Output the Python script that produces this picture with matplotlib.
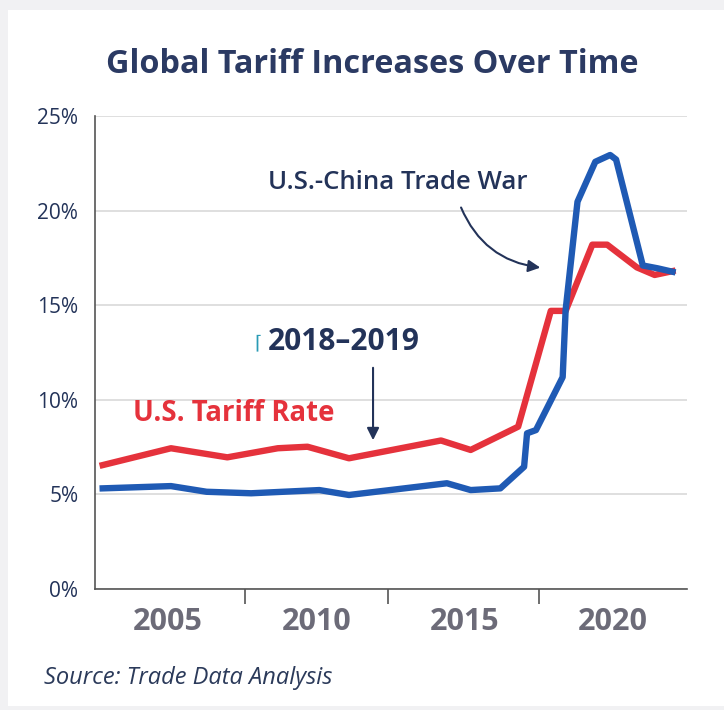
import matplotlib.pyplot as plt
from matplotlib.patches import FancyBboxPatch

# U.S. tariff rate (red)
us_years = [2002.8, 2005.1, 2007.0, 2008.7, 2009.7, 2011.1, 2014.2, 2015.2,
            2016.8, 2017.9, 2018.4, 2019.3, 2019.8, 2020.8, 2021.4, 2022.0]
us_rate = [6.55, 7.44, 6.96, 7.44, 7.52, 6.91, 7.85, 7.35,
           8.58, 14.7, 14.7, 18.2, 18.2, 17.0, 16.6, 16.8]

# global tariff (blue)
global_years = [2002.8, 2005.1, 2006.3, 2007.8, 2010.1, 2011.1, 2014.4, 2015.2,
                2016.2, 2017.0, 2017.1, 2017.4, 2018.3, 2018.4, 2018.8, 2019.4,
                2019.9, 2020.1, 2021.0, 2021.5, 2022.0]
global_rate = [5.32, 5.44, 5.14, 5.06, 5.23, 4.97, 5.59, 5.23,
               5.32, 6.46, 8.23, 8.4, 11.2, 14.75, 20.47, 22.58,
               22.94, 22.7, 17.1, 16.95, 16.77]

x_labels = [2005, 2010, 2015, 2020]
x_minor = [2007.6, 2012.4, 2017.5]
y_ticks = [0, 5, 10, 15, 20, 25]

NAVY = '#233359'
RED = '#E5323C'
BLUE = '#1F5AB4'

plt.rcParams['font.family'] = ['Open Sans', 'DejaVu Sans']

fig = plt.figure(figsize=(7.24, 7.10), dpi=100)
fig.patch.set_facecolor('#f1f1f3')
fig.patches.append(FancyBboxPatch((8 / 724, 4 / 710), 1 - 8 / 724, 1 - 14 / 710,
                                  boxstyle='square,pad=0', transform=fig.transFigure,
                                  facecolor='white', edgecolor='none', zorder=-10))

ax = fig.add_axes([0.1312, 0.1704, 0.8177, 0.6662])
ax.set_facecolor('white')

ax.plot(us_years, us_rate, color=RED, lw=4.6, solid_joinstyle='round', zorder=3)
ax.plot(global_years, global_rate, color=BLUE, lw=4.6, solid_joinstyle='round', zorder=4)

ax.set_xlim(2002.54, 2022.49)
ax.set_ylim(0, 25)
ax.set_yticks(y_ticks)
ax.set_yticklabels([f'{v}%' for v in y_ticks], fontsize=15, color=NAVY)
ax.set_xticks(x_labels)
ax.set_xticklabels([str(v) for v in x_labels], fontsize=22, fontweight='bold', color='#6c6b78')
ax.set_xticks(x_minor, minor=True)
ax.tick_params(axis='y', length=0, pad=12)
ax.tick_params(axis='x', which='major', length=0, pad=13)
ax.tick_params(axis='x', which='minor', length=11, width=1.2, color='#555555')

ax.grid(axis='y', color='#d9d9d9', lw=1.2, zorder=0)
for s in ['top', 'right']:
    ax.spines[s].set_visible(False)
for s in ['left', 'bottom']:
    ax.spines[s].set_color('#555555')
    ax.spines[s].set_linewidth(1.2)

# annotations
ax.text(2012.73, 21.46, 'U.S.-China Trade War', ha='center', va='center',
        fontsize=18.5, fontweight='semibold', color=NAVY)
ax.annotate('', xy=(2017.64, 16.97), xytext=(2014.84, 20.3),
            arrowprops=dict(arrowstyle='-|>', color=NAVY, lw=1.5, mutation_scale=18,
                            connectionstyle='arc3,rad=0.3'))

ax.text(2010.93, 13.05, '2018–2019', ha='center', va='center',
        fontsize=21.5, fontweight='bold', color=NAVY)
ax.text(2008.05, 13.0, '⌈', ha='center', va='center', fontsize=14,
        color='#2a9bb5', family=['DejaVu Sans'])
ax.annotate('', xy=(2011.91, 7.72), xytext=(2011.91, 11.84),
            arrowprops=dict(arrowstyle='-|>', color=NAVY, lw=1.5, mutation_scale=18))

ax.text(2003.82, 9.3, 'U.S. Tariff Rate', ha='left', va='center',
        fontsize=19.8, fontweight='bold', color=RED)

fig.text(0.514, 0.909, 'Global Tariff Increases Over Time', ha='center', va='center',
         fontsize=23.3, fontweight='bold', color='#2b3a63')
fig.text(0.0608, 0.045, 'Source: Trade Data Analysis', ha='left', va='center',
         fontsize=17, style='italic', color='#2b3a5a')

fig.savefig('out.png', dpi=100, facecolor=fig.get_facecolor())
